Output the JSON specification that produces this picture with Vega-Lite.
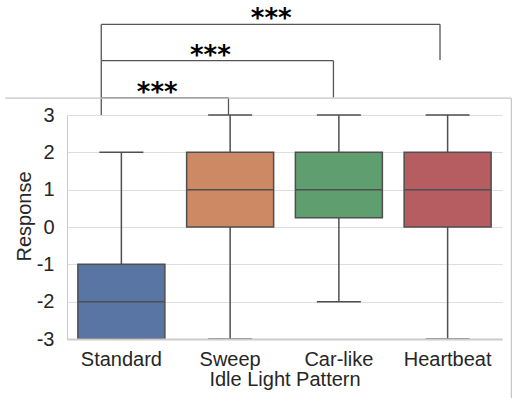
{
  "$schema": "https://vega.github.io/schema/vega-lite/v6.json",
  "width": 435,
  "height": 224,
  "autosize": {"type": "none"},
  "padding": {"left": 67, "top": 115, "right": 13, "bottom": 59},
  "background": "white",
  "config": {
    "view": {"stroke": null},
    "font": "Liberation Sans",
    "axis": {
      "labelFont": "Liberation Sans",
      "titleFont": "Liberation Sans",
      "labelFontSize": 20,
      "titleFontSize": 20,
      "titleFontWeight": "normal",
      "labelColor": "#262626",
      "titleColor": "#262626",
      "ticks": false,
      "labelOverlap": false,
      "domainColor": "#cccccc"
    },
    "axisY": {
      "labelPadding": 13,
      "titlePadding": 2,
      "titleY": 101,
      "grid": true,
      "gridColor": "#dedede",
      "gridWidth": 1
    }
  },
  "datasets": {
    "summary": [
      {"pattern": "Standard", "lower": -3, "q1": -3, "median": -2, "q3": -1, "upper": 2},
      {"pattern": "Sweep", "lower": -3, "q1": 0, "median": 1, "q3": 2, "upper": 3},
      {"pattern": "Car-like", "lower": -2, "q1": 0.25, "median": 1, "q3": 2, "upper": 3},
      {"pattern": "Heartbeat", "lower": -3, "q1": 0, "median": 1, "q3": 2, "upper": 3}
    ],
    "brackets": [
      {"pair": "Standard vs Sweep", "left": -0.185, "right": 0.985, "level": 3.46, "leftBottom": 3.0, "rightBottom": 3.0, "textX": 0.33, "label": "***"},
      {"pair": "Standard vs Car-like", "left": -0.185, "right": 1.95, "level": 4.455, "leftBottom": 3.46, "rightBottom": 3.47, "textX": 0.818, "label": "***"},
      {"pair": "Standard vs Heartbeat", "left": -0.185, "right": 2.93, "level": 5.43, "leftBottom": 4.455, "rightBottom": 4.47, "textX": 1.378, "label": "***"}
    ],
    "frame": [
      {"x1": -1.067, "x2": 3.586, "y1": 3.45, "y2": 3.45},
      {"x1": 3.586, "x2": 3.586, "y1": 3.45, "y2": -5}
    ]
  },
  "layer": [
    {
      "data": {"name": "summary"},
      "encoding": {
        "x": {
          "field": "pattern",
          "type": "nominal",
          "sort": ["Standard", "Sweep", "Car-like", "Heartbeat"],
          "scale": {"paddingInner": 0.2, "paddingOuter": 0.1},
          "axis": {
            "title": "Idle Light Pattern",
            "labelAngle": 0,
            "labelPadding": 10,
            "titlePadding": 0,
            "domainWidth": 2,
            "zindex": 1
          }
        }
      },
      "layer": [
        {
          "mark": {"type": "rule", "color": "#4f4f4f", "strokeWidth": 1.5},
          "encoding": {
            "y": {
              "field": "lower",
              "type": "quantitative",
              "scale": {"domain": [-3, 3], "nice": false, "zero": false},
              "axis": {"title": "Response", "values": [-3, -2, -1, 0, 1, 2, 3], "labelExpr": "'' + datum.value"}
            },
            "y2": {"field": "upper"}
          }
        },
        {
          "mark": {"type": "bar", "stroke": "#4f4f4f", "strokeWidth": 1.5},
          "encoding": {
            "y": {
              "field": "q1",
              "type": "quantitative",
              "scale": {"domain": [-3, 3], "nice": false, "zero": false},
              "axis": {"title": "Response", "values": [-3, -2, -1, 0, 1, 2, 3], "labelExpr": "'' + datum.value"}
            },
            "y2": {"field": "q3"},
            "color": {
              "field": "pattern",
              "type": "nominal",
              "scale": {
                "domain": ["Standard", "Sweep", "Car-like", "Heartbeat"],
                "range": ["#5875a4", "#cc8963", "#5f9e6e", "#b55d60"]
              },
              "legend": null
            }
          }
        },
        {
          "mark": {"type": "tick", "color": "#4f4f4f", "size": 87, "thickness": 1.5, "opacity": 1},
          "encoding": {
            "y": {
              "field": "median",
              "type": "quantitative",
              "scale": {"domain": [-3, 3], "nice": false, "zero": false},
              "axis": {"title": "Response", "values": [-3, -2, -1, 0, 1, 2, 3], "labelExpr": "'' + datum.value"}
            }
          }
        },
        {
          "mark": {"type": "tick", "color": "#4f4f4f", "size": 44, "thickness": 1.5, "opacity": 1},
          "encoding": {
            "y": {
              "field": "upper",
              "type": "quantitative",
              "scale": {"domain": [-3, 3], "nice": false, "zero": false},
              "axis": {"title": "Response", "values": [-3, -2, -1, 0, 1, 2, 3], "labelExpr": "'' + datum.value"}
            }
          }
        },
        {
          "mark": {"type": "tick", "color": "#4f4f4f", "size": 44, "thickness": 1.5, "opacity": 1},
          "encoding": {
            "y": {
              "field": "lower",
              "type": "quantitative",
              "scale": {"domain": [-3, 3], "nice": false, "zero": false},
              "axis": {"title": "Response", "values": [-3, -2, -1, 0, 1, 2, 3], "labelExpr": "'' + datum.value"}
            }
          }
        }
      ]
    },
    {
      "data": {"name": "brackets"},
      "encoding": {
        "x": {"type": "quantitative", "scale": {"domain": [-0.5, 3.5], "nice": false, "zero": false}, "axis": null}
      },
      "layer": [
        {
          "mark": {"type": "rule", "color": "#555555", "strokeWidth": 1.3},
          "encoding": {
            "x": {"field": "left", "type": "quantitative"},
            "x2": {"field": "right"},
            "y": {
              "field": "level",
              "type": "quantitative",
              "scale": {"domain": [-3, 3], "nice": false, "zero": false},
              "axis": {"title": "Response", "values": [-3, -2, -1, 0, 1, 2, 3], "labelExpr": "'' + datum.value"}
            }
          }
        },
        {
          "mark": {"type": "rule", "color": "#555555", "strokeWidth": 1.3},
          "encoding": {
            "x": {"field": "left", "type": "quantitative"},
            "y": {
              "field": "level",
              "type": "quantitative",
              "scale": {"domain": [-3, 3], "nice": false, "zero": false},
              "axis": {"title": "Response", "values": [-3, -2, -1, 0, 1, 2, 3], "labelExpr": "'' + datum.value"}
            },
            "y2": {"field": "leftBottom"}
          }
        },
        {
          "mark": {"type": "rule", "color": "#555555", "strokeWidth": 1.3},
          "encoding": {
            "x": {"field": "right", "type": "quantitative"},
            "y": {
              "field": "level",
              "type": "quantitative",
              "scale": {"domain": [-3, 3], "nice": false, "zero": false},
              "axis": {"title": "Response", "values": [-3, -2, -1, 0, 1, 2, 3], "labelExpr": "'' + datum.value"}
            },
            "y2": {"field": "rightBottom"}
          }
        },
        {
          "mark": {"type": "text", "font": "DejaVu Sans", "fontSize": 26, "fontWeight": "bold", "color": "#000000", "align": "center", "baseline": "alphabetic", "dy": 3},
          "encoding": {
            "x": {"field": "textX", "type": "quantitative"},
            "y": {
              "field": "level",
              "type": "quantitative",
              "scale": {"domain": [-3, 3], "nice": false, "zero": false},
              "axis": {"title": "Response", "values": [-3, -2, -1, 0, 1, 2, 3], "labelExpr": "'' + datum.value"}
            },
            "text": {"field": "label"}
          }
        }
      ]
    },
    {
      "data": {"name": "frame"},
      "mark": {"type": "rule", "color": "#c4c4c4", "strokeWidth": 1.2},
      "encoding": {
        "x": {"field": "x1", "type": "quantitative", "scale": {"domain": [-0.5, 3.5], "nice": false, "zero": false}, "axis": null},
        "x2": {"field": "x2"},
        "y": {
          "field": "y1",
          "type": "quantitative",
          "scale": {"domain": [-3, 3], "nice": false, "zero": false},
          "axis": {"title": "Response", "values": [-3, -2, -1, 0, 1, 2, 3], "labelExpr": "'' + datum.value"}
        },
        "y2": {"field": "y2"}
      }
    }
  ],
  "resolve": {"scale": {"x": "independent"}}
}
